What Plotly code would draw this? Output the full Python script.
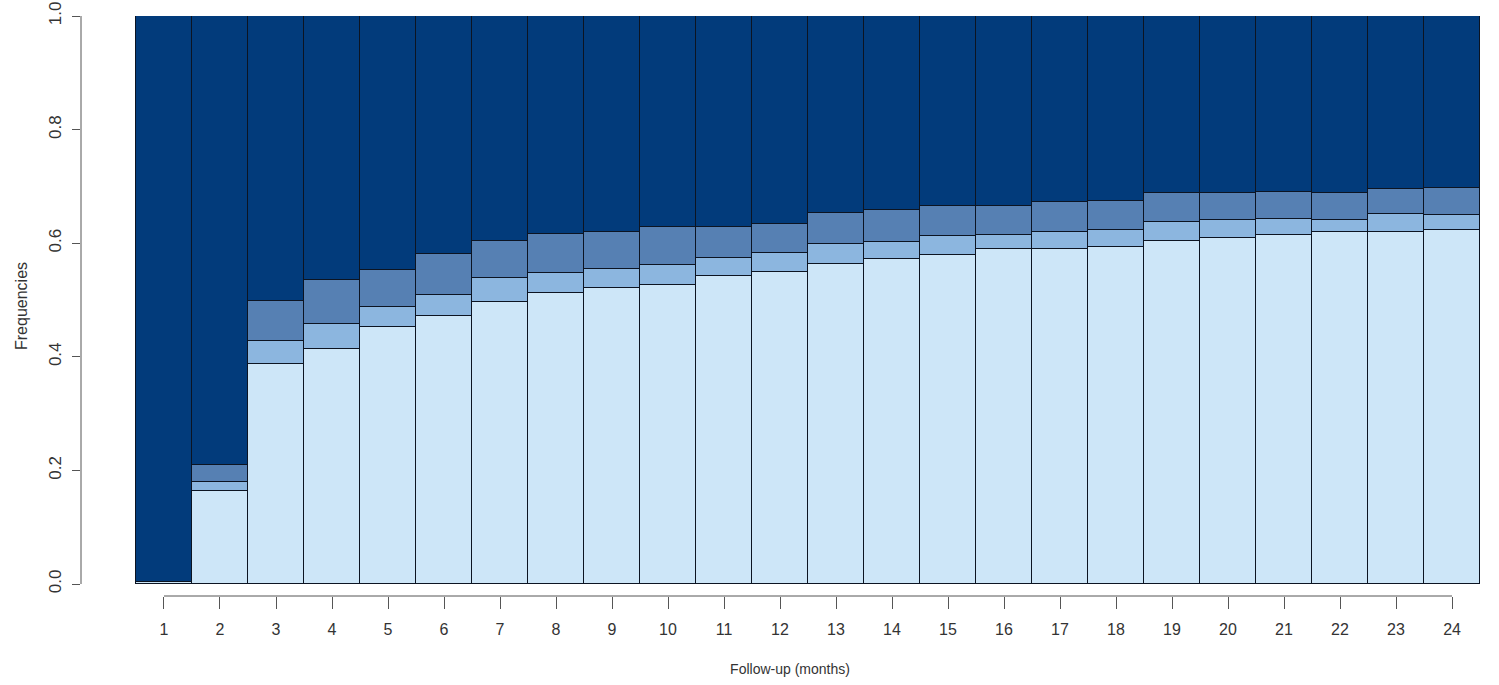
import plotly.graph_objects as go

# Follow-up month of each bar
months = list(range(1, 25))
month_labels = [str(m) for m in months]

# Share of patients in each state per month (bottom to top of the stack)
state_light = [0.004, 0.164, 0.388, 0.413, 0.452, 0.471, 0.496, 0.513, 0.522, 0.527,
               0.542, 0.549, 0.563, 0.572, 0.580, 0.589, 0.590, 0.594, 0.604, 0.610,
               0.614, 0.620, 0.620, 0.624]
state_midlight = [0.000, 0.016, 0.039, 0.044, 0.035, 0.038, 0.043, 0.034, 0.033, 0.034,
                  0.032, 0.033, 0.035, 0.030, 0.032, 0.025, 0.030, 0.030, 0.033, 0.030,
                  0.028, 0.020, 0.031, 0.026]
state_mid = [0.000, 0.030, 0.072, 0.078, 0.066, 0.072, 0.065, 0.069, 0.064, 0.067,
             0.054, 0.052, 0.056, 0.056, 0.054, 0.052, 0.052, 0.050, 0.051, 0.048,
             0.048, 0.048, 0.045, 0.048]
state_dark = [round(1 - a - b - c, 3) for a, b, c in zip(state_light, state_midlight, state_mid)]

y_ticks = [0.0, 0.2, 0.4, 0.6, 0.8, 1.0]
y_tick_labels = ["0.0", "0.2", "0.4", "0.6", "0.8", "1.0"]

series = [
    (state_light, "#cde6f8"),
    (state_midlight, "#8cb6df"),
    (state_mid, "#5680b3"),
    (state_dark, "#023b7b"),
]

fig = go.Figure()
for values, color in series:
    fig.add_trace(go.Bar(
        x=months, y=values, width=1.0,
        marker=dict(color=color, line=dict(color="#0c1422", width=1)),
        showlegend=False, hoverinfo="skip",
    ))

font_family = "Liberation Sans, Arial, sans-serif"

fig.update_layout(
    width=1499, height=685,
    margin=dict(l=81, r=0, t=16, b=89),
    barmode="stack", bargap=0,
    plot_bgcolor="white", paper_bgcolor="white",
    xaxis=dict(
        range=[-0.482, 24.839],
        tickmode="array", tickvals=months, ticktext=month_labels,
        ticks="outside", ticklen=12, tickcolor="#555555", tickwidth=1,
        ticklabelstandoff=7,
        showline=False, showgrid=False, zeroline=False,
        tickfont=dict(family=font_family, size=16, color="#333333"),
        title=dict(text="Follow-up (months)", font=dict(family=font_family, size=14, color="#333333"), standoff=26),
    ),
    yaxis=dict(
        range=[-0.0211, 1.0],
        tickmode="array", tickvals=y_ticks, ticktext=y_tick_labels,
        ticks="outside", ticklen=8, tickcolor="#555555", tickwidth=1,
        tickangle=-90, ticklabelstandoff=4,
        showline=False, showgrid=False, zeroline=False,
        tickfont=dict(family=font_family, size=17, color="#333333"),
        title=dict(text="Frequencies", font=dict(family=font_family, size=16, color="#333333"), standoff=14),
    ),
    shapes=[
        # y axis line spanning 0..1
        dict(type="line", xref="paper", yref="y", x0=0, x1=0, y0=0, y1=1,
             line=dict(color="#555555", width=1)),
        # x axis line spanning first to last tick
        dict(type="line", xref="x", yref="paper", x0=months[0], x1=months[-1], y0=0, y1=0,
             line=dict(color="#555555", width=1)),
    ],
)

fig.write_html("out.html")
